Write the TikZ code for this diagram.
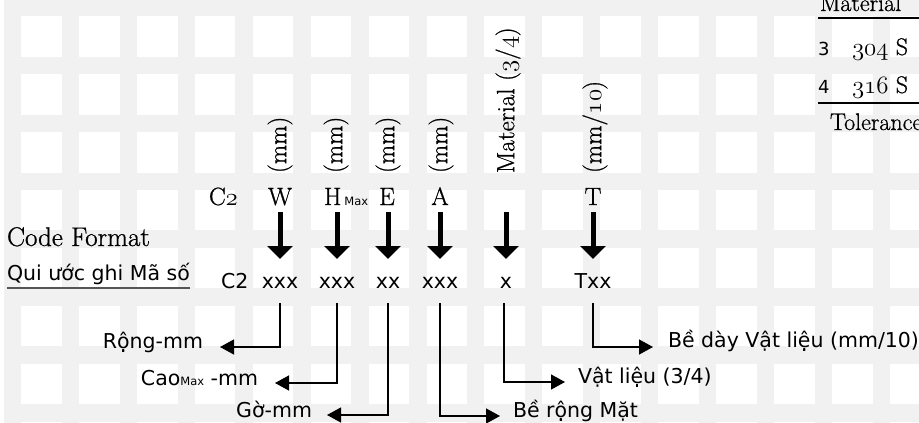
\documentclass[tikz,border=0pt]{standalone}
\usepackage{fontspec}
\newfontfamily\sansvn{DejaVu Sans}
\newfontfamily\heavyserif{Latin Modern Roman}[FakeBold=0.8]
\usetikzlibrary{arrows.meta}
\newcommand\osn[1]{{\usefont{OML}{cmm}{m}{it}#1}}
\definecolor{bggray}{HTML}{F1F1F1}
\definecolor{ulgray}{HTML}{555555}
\tikzset{
  serif/.style={font=\heavyserif\fontsize{25}{30}\selectfont, inner sep=0pt, outer sep=0pt},
  tserif/.style={font=\heavyserif\fontsize{24}{28}\selectfont, inner sep=0pt, outer sep=0pt, anchor=base west},
  sans/.style={font=\sansvn\fontsize{20.5}{24}\selectfont, inner sep=0pt, outer sep=0pt},
  tsans/.style={font=\sansvn\fontsize{18}{22}\selectfont, inner sep=0pt, outer sep=0pt, anchor=base west},
  letter/.style={serif, text depth=0pt},
  code/.style={sans, anchor=base, text height=15pt, text depth=0pt},
  vlab/.style={serif, rotate=90, anchor=west},
  bigarr/.style={line width=5pt, -{Triangle[length=13pt,width=25pt]}, shorten <=7pt, shorten >=14pt},
  thinarr/.style={line width=1.3pt, -{Triangle[length=14pt,width=15pt]}},
  rule/.style={line width=1.2pt}
}
\begin{document}
\begin{tikzpicture}[x=1pt,y=-1pt]
\useasboundingbox (0,0) rectangle (919,423);
\clip (0,0) rectangle (919,423);
% background grid
\fill[bggray] (4,0) rectangle (919,423);
\foreach \i in {0,...,15}{
  \foreach \j in {0,...,7}{
    \fill[white] ({21+57.93*\i},{16+57.93*\j}) rectangle +(40.7,40.7);
  }
}
% titles
\node[serif, font=\heavyserif\fontsize{27}{32}\selectfont, anchor=base west] (cf) at (7,246) {Code Format};
\node[sans, anchor=base west] (qui) at (7,280) {Qui ước ghi Mã số};
\draw[ulgray, line width=1.3pt] ([yshift=-8pt]qui.base west) -- ([yshift=-8pt]qui.base east);
% letters row
\node[letter, anchor=base west] (C2top) at (209,205) {C\osn{2}};
\node[letter, anchor=base] (W) at (280,205) {W};
\node[letter, anchor=base west] (H) at (324,205) {H\kern3pt{\sansvn\fontsize{11.5}{12}\selectfont Max}};
\node[letter, anchor=base] (E) at (387,205) {E};
\node[letter, anchor=base] (A) at (440,205) {A};
\node[letter, anchor=base] (T) at (593,205) {T};
% rotated unit labels
\node[vlab] (uW) at (280,173) {(mm)};
\node[vlab] (uH) at (336,173) {(mm)};
\node[vlab] (uE) at (388,173) {(mm)};
\node[vlab] (uA) at (441,173) {(mm)};
\node[vlab] (uX) at (508,173) {Material (\osn{3}/\osn{4})};
\node[vlab] (uT) at (595,173) {(mm/\osn{10})};
% code row
\node[sans, anchor=base west] (cC2) at (221,288) {C2};
\node[code] (cW) at (280,288) {xxx};
\node[code] (cH) at (337,288) {xxx};
\node[code] (cE) at (388,288) {xx};
\node[code] (cA) at (440,288) {xxx};
\node[code] (cX) at (506,288) {x};
\node[code] (cT) at (593,288) {Txx};
% big arrows
\draw[bigarr] (W.south -| cW.north) -- (cW.north);
\draw[bigarr] (H.south -| cH.north) -- (cH.north);
\draw[bigarr] (E.south -| cE.north) -- (cE.north);
\draw[bigarr] (A.south -| cA.north) -- (cA.north);
\coordinate (xtop) at (506,205);
\draw[bigarr] (xtop) -- (cX.north);
\draw[bigarr] (T.south -| cT.north) -- (cT.north);
% description labels
\node[sans, anchor=base east] (rong) at (203,348) {Rộng-mm};
\node[sans, anchor=base east] (cao) at (258,385) {Cao{\fontsize{11.5}{12}\selectfont Max} -mm};
\node[sans, anchor=base east] (go) at (312,417) {Gờ-mm};
\node[sans, anchor=base west] (bere) at (513,417) {Bề rộng Mặt};
\node[sans, anchor=base west] (vat) at (578,383) {Vật liệu (3/4)};
\node[sans, anchor=base west] (beday) at (668,347) {Bề dày Vật liệu (mm/10)};
% elbow connectors
\draw[thinarr] ([yshift=-15pt]cW.south) |- ([xshift=17pt,yshift=1pt]rong.base east);
\draw[thinarr] ([yshift=-15pt]cH.south) |- ([xshift=17pt,yshift=2pt]cao.base east);
\draw[thinarr] ([yshift=-15pt]cE.south) |- ([xshift=15pt,yshift=2pt]go.base east);
\draw[thinarr] ([yshift=-15pt]cA.south) |- ([xshift=-13pt,yshift=1pt]bere.base west);
\draw[thinarr] ([yshift=-15pt,xshift=-2pt]cX.south) |- ([xshift=-13pt,yshift=1pt]vat.base west);
\draw[thinarr] ([yshift=-15pt]cT.south) |- ([xshift=-15pt]beday.base west);
% table at top right
\node[tserif] (tmat) at (820,11) {Material};
\coordinate (r1a) at (818,18);
\coordinate (r1b) at (919,18);
\draw[rule] (r1a) -- (r1b);
\node[tsans] (n3) at (818,55) {3};
\node[tserif] (s304) at (852,55) {\osn{304} S};
\node[tsans] (n4) at (818,93) {4};
\node[tserif] (s316) at (852,93) {\osn{316} S};
\coordinate (r2a) at (818,103);
\coordinate (r2b) at (919,103);
\draw[rule] (r2a) -- (r2b);
\node[tserif] (tol) at (830,130) {Tolerance};
\end{tikzpicture}
\end{document}
